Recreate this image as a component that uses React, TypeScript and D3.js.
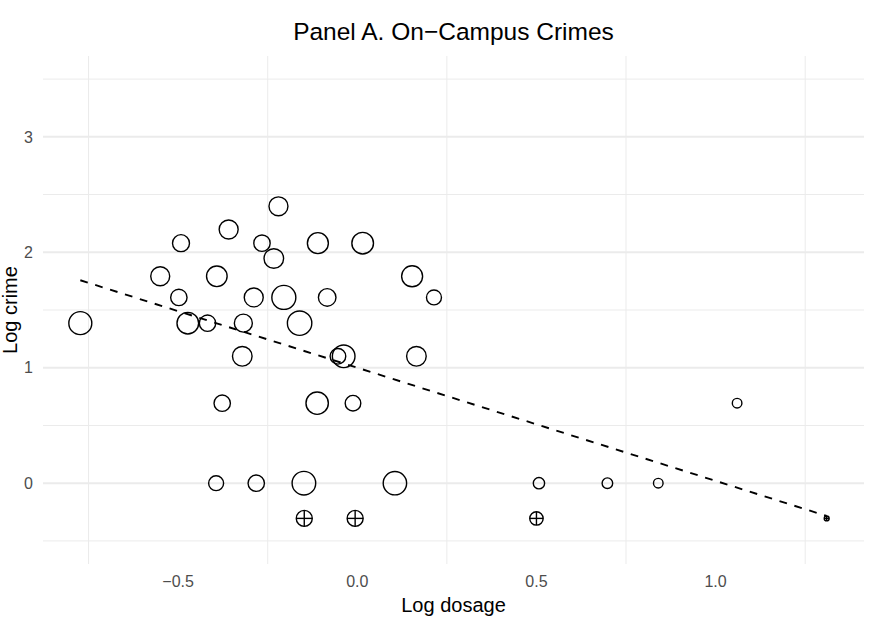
import * as d3 from 'd3'

// circles: log dosage, log crime, weight (drives circle area)
const logDosage = [
  -0.773, -0.55, -0.492, -0.498, -0.473, -0.418, -0.392, -0.359, -0.377, -0.394,
  -0.321, -0.318, -0.289, -0.282, -0.266, -0.233, -0.22, -0.205, -0.161, -0.149,
  -0.11, -0.112, -0.084, -0.054, -0.038, -0.012, 0.015, 0.105, 0.153, 0.165,
  0.214, 0.507, 0.698, 0.84, 1.06,
]
const logCrime = [
  1.386, 1.792, 2.079, 1.609, 1.386, 1.386, 1.792, 2.197, 0.693, 0,
  1.099, 1.386, 1.609, 0, 2.079, 1.946, 2.398, 1.609, 1.386, 0,
  2.079, 0.693, 1.609, 1.099, 1.099, 0.693, 2.079, 0, 1.792, 1.099,
  1.609, 0, 0, 0, 0.693,
]
const weight = [
  132, 90, 72, 67, 117, 67, 106, 90, 67, 56,
  96, 81, 90, 67, 67, 96, 90, 144, 149, 139,
  110, 125, 77, 61, 128, 61, 117, 137, 110, 96,
  56, 32, 28, 23, 23,
]

// zero-crime campuses drawn as circle-plus
const zeroDosage = [-0.148, -0.006, 0.5, 1.31]
const zeroCrime = [-0.305, -0.305, -0.305, -0.305]
const zeroWeight = [64, 64, 45, 6]

// fitted line
const fitIntercept = 1.0
const fitSlope = -0.98

const yLimits = [-0.5, 3.5]
const xTicks = [-0.5, 0, 0.5, 1]
const xMinor = [-0.75, -0.25, 0.25, 0.75, 1.25]
const yTicks = [0, 1, 2, 3]
const yMinor = [-0.5, 0.5, 1.5, 2.5, 3.5]

const width = 874
const height = 628
const marginLeft = 43
const marginRight = 10
const marginTop = 56
const marginBottom = 64

const font = '"Liberation Sans", Arial, Helvetica, sans-serif'
const fmtX = (v: number) => d3.format('.1f')(v).replace('-', '\u2212')

export default function App() {
  const allX = [...logDosage, ...zeroDosage]
  const [x0, x1] = d3.extent(allX) as [number, number]
  const xPad = (x1 - x0) * 0.05
  const yPad = (yLimits[1] - yLimits[0]) * 0.05

  const x = d3
    .scaleLinear()
    .domain([x0 - xPad, x1 + xPad])
    .range([marginLeft, width - marginRight])
  const y = d3
    .scaleLinear()
    .domain([yLimits[0] - yPad, yLimits[1] + yPad])
    .range([height - marginBottom, marginTop])
  const r = d3.scaleSqrt().domain([0, 144]).range([0, 12])

  const line = d3
    .line<number>()
    .x((d) => x(d))
    .y((d) => y(fitIntercept + fitSlope * d))

  const points = logDosage.map((d, i) => ({ x: d, y: logCrime[i], w: weight[i] }))
  const zeros = zeroDosage.map((d, i) => ({ x: d, y: zeroCrime[i], w: zeroWeight[i] }))

  const left = marginLeft
  const right = width - marginRight
  const top = marginTop
  const bottom = height - marginBottom
  const midX = (left + right) / 2

  return (
    <svg
      width={width}
      height={height}
      style={{ position: 'absolute', left: 0, top: 0, background: '#fff', fontFamily: font }}
    >
      {/* minor grid */}
      <g stroke="#EBEBEB" strokeWidth={1}>
        {xMinor.map((t) => (
          <line key={'xm' + t} x1={x(t)} x2={x(t)} y1={top} y2={bottom} />
        ))}
        {yMinor.map((t) => (
          <line key={'ym' + t} x1={left} x2={right} y1={y(t)} y2={y(t)} />
        ))}
      </g>
      {/* major grid (horizontal only) */}
      <g stroke="#EBEBEB" strokeWidth={1.9}>
        {yTicks.map((t) => (
          <line key={'y' + t} x1={left} x2={right} y1={y(t)} y2={y(t)} />
        ))}
      </g>

      {/* points */}
      <g fill="none" stroke="#000" strokeWidth={1.4}>
        {points.map((p, i) => (
          <circle key={i} cx={x(p.x)} cy={y(p.y)} r={r(p.w)} />
        ))}
        {zeros.map((p, i) => {
          const cx = x(p.x)
          const cy = y(p.y)
          const rr = r(p.w)
          return (
            <g key={'z' + i}>
              <circle cx={cx} cy={cy} r={rr} />
              <line x1={cx - rr} x2={cx + rr} y1={cy} y2={cy} />
              <line x1={cx} x2={cx} y1={cy - rr} y2={cy + rr} />
            </g>
          )
        })}
      </g>

      {/* fit line */}
      <path
        d={line([x0, x1]) ?? ''}
        fill="none"
        stroke="#000"
        strokeWidth={1.9}
        strokeDasharray="7.8 7.8"
      />

      {/* axes text */}
      <g fill="#4D4D4D" fontSize={16}>
        {xTicks.map((t) => (
          <text key={'xt' + t} x={x(t)} y={587} textAnchor="middle">
            {fmtX(t)}
          </text>
        ))}
        {yTicks.map((t) => (
          <text key={'yt' + t} x={33} y={y(t)} dy="0.36em" textAnchor="end">
            {t}
          </text>
        ))}
      </g>

      <text x={midX} y={612} textAnchor="middle" fontSize={20} fill="#000">
        Log dosage
      </text>
      <text
        transform={`translate(17,${(top + bottom) / 2}) rotate(-90)`}
        textAnchor="middle"
        fontSize={20}
        fill="#000"
      >
        Log crime
      </text>
      <text x={midX} y={40} textAnchor="middle" fontSize={24.5} fill="#000">
        Panel A. On{'\u2212'}Campus Crimes
      </text>
    </svg>
  )
}
